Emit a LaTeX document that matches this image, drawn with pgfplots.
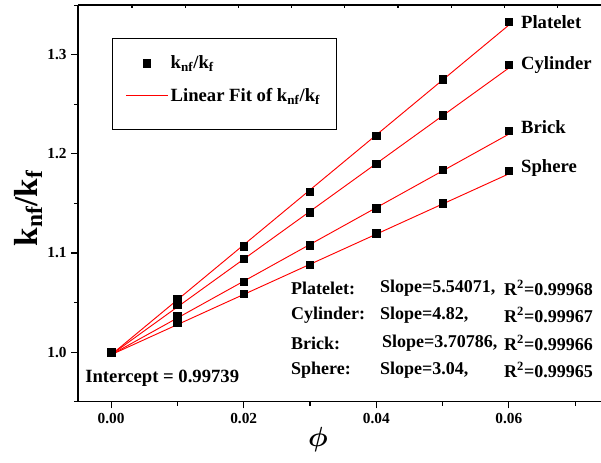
\documentclass[border=0pt]{standalone}
\usepackage{fontspec}
\setmainfont{Liberation Serif}
\usepackage{bm}
\usepackage{pgfplots}
\pgfplotsset{compat=1.18}

\newcommand{\kr}{k\textsubscript{nf}/k\textsubscript{f}}

\begin{document}
\begin{tikzpicture}
  \begin{axis}[
      name=ax,
      scale only axis,
      width=392.25pt,
      height=297.5pt,
      xmin=-0.005, xmax=0.0739,
      ymin=0.95, ymax=1.35,
      axis x line*=bottom,
      axis y line*=left,
      axis line style={-, line width=1pt},
      tick align=outside,
      major tick length=5pt,
      minor tick length=3pt,
      tick style={line width=0.8pt, black},
      xtick={0,0.02,0.04,0.06},
      minor xtick={0.01,0.03,0.05,0.07},
      ytick={1.0,1.1,1.2,1.3},
      minor ytick={0.95,1.05,1.15,1.25,1.35},
      scaled x ticks=false,
      scaled y ticks=false,
      xticklabel style={/pgf/number format/fixed, /pgf/number format/fixed zerofill, /pgf/number format/precision=2},
      yticklabel style={/pgf/number format/fixed, /pgf/number format/fixed zerofill, /pgf/number format/precision=1},
      /pgf/number format/assume math mode=true,
      ticklabel style={font=\bfseries\fontsize{11.5}{13}\selectfont},
      xlabel={$\bm{\phi}$},
      xlabel style={font=\fontsize{22}{24}\selectfont, at={(rel axis cs:0.459,-0.0958)}, anchor=center},
      ylabel={\textbf{k\textsubscript{nf}/k\textsubscript{f}}},
      ylabel style={font=\fontsize{25}{28}\selectfont, at={(rel axis cs:-0.0956,0.488)}, anchor=center},
      clip=false,
      legend cell align=left,
      legend style={at={(rel axis cs:0.065,0.917)}, anchor=north west,
        font=\bfseries\fontsize{14}{16}\selectfont,
        draw=black, line width=0.6pt,
        inner xsep=10pt, inner ysep=11pt, row sep=9pt},
      legend image code/.code={\draw[mark repeat=2,mark phase=2,#1] plot coordinates {(0pt,0pt) (15.5pt,0pt) (31pt,0pt)};},
    ]
    % Platelet
    \addplot[only marks, mark=square*, mark size=2.8pt, black] coordinates {
      (0,1.000) (0.01,1.054) (0.02,1.107) (0.03,1.162) (0.04,1.218) (0.05,1.275) (0.06,1.333)
    };
    \addlegendentry{\kr}
    \addplot[red, line width=0.7pt,
      legend image code/.code={\draw[red, line width=0.7pt] (0pt,0pt) -- (31pt,0pt); \path (0pt,-14pt);}]
      coordinates {(0,0.99739) (0.06,1.32983)};
    \addlegendentry{Linear Fit of \kr}
    % Cylinder
    \addplot[only marks, mark=square*, mark size=2.8pt, black, forget plot] coordinates {
      (0,1.000) (0.01,1.048) (0.02,1.094) (0.03,1.141) (0.04,1.190) (0.05,1.239) (0.06,1.290)
    };
    \addplot[red, line width=0.7pt, forget plot] coordinates {(0,0.99739) (0.06,1.28659)};
    % Brick
    \addplot[only marks, mark=square*, mark size=2.8pt, black, forget plot] coordinates {
      (0,1.000) (0.01,1.036) (0.02,1.071) (0.03,1.108) (0.04,1.145) (0.05,1.184) (0.06,1.223)
    };
    \addplot[red, line width=0.7pt, forget plot] coordinates {(0,0.99739) (0.06,1.21986)};
    % Sphere
    \addplot[only marks, mark=square*, mark size=2.8pt, black, forget plot] coordinates {
      (0,1.000) (0.01,1.030) (0.02,1.059) (0.03,1.088) (0.04,1.120) (0.05,1.150) (0.06,1.183)
    };
    \addplot[red, line width=0.7pt, forget plot] coordinates {(0,0.99739) (0.06,1.17979)};

    % series labels
    \begin{scope}[every node/.style={font=\bfseries\fontsize{14}{16}\selectfont, inner sep=0pt, anchor=west}]
      \node[xshift=9pt] at (axis cs:0.06,1.333) {Platelet};
      \node[xshift=9pt] at (axis cs:0.06,1.290) {Cylinder};
      \node[xshift=9pt, yshift=3pt] at (axis cs:0.06,1.223) {Brick};
      \node[xshift=9pt, yshift=2pt] at (axis cs:0.06,1.183) {Sphere};
      \node at (rel axis cs:0.0134,0.060) {Intercept = 0.99739};
    \end{scope}
    \begin{scope}[every node/.style={font=\bfseries\fontsize{13.5}{16}\selectfont, inner sep=0pt, anchor=west}]
      \node at (rel axis cs:0.407,0.287) {Platelet:};
      \node at (rel axis cs:0.407,0.218) {Cylinder:};
      \node at (rel axis cs:0.407,0.148) {Brick:};
      \node at (rel axis cs:0.407,0.080) {Sphere:};
      \node at (rel axis cs:0.577,0.287) {Slope=5.54071,};
      \node at (rel axis cs:0.577,0.218) {Slope=4.82,};
      \node at (rel axis cs:0.581,0.148) {Slope=3.70786,};
      \node at (rel axis cs:0.577,0.080) {Slope=3.04,};
      \node[anchor=east] at (rel axis cs:0.985,0.287) {R\textsuperscript{2}=0.99968};
      \node[anchor=east] at (rel axis cs:0.985,0.218) {R\textsuperscript{2}=0.99967};
      \node[anchor=east] at (rel axis cs:0.985,0.148) {R\textsuperscript{2}=0.99966};
      \node[anchor=east] at (rel axis cs:0.985,0.080) {R\textsuperscript{2}=0.99965};
    \end{scope}
  \end{axis}
  % top frame line with its small ticks
  \draw[line width=1pt] (ax.north west) -- (ax.north east);
  \foreach \t in {40.5,80.4,120.3,160.2,200.1,240.0,279.9,319.8,359.7}
    \draw[line width=0.8pt] ([xshift=\t pt]ax.north west) -- ++(0,-2.5pt);
  \pgfresetboundingbox
  \path (ax.south west) ++(-58.5pt,-45.2pt) rectangle ++(450.75pt,346.5pt);
\end{tikzpicture}
\end{document}
